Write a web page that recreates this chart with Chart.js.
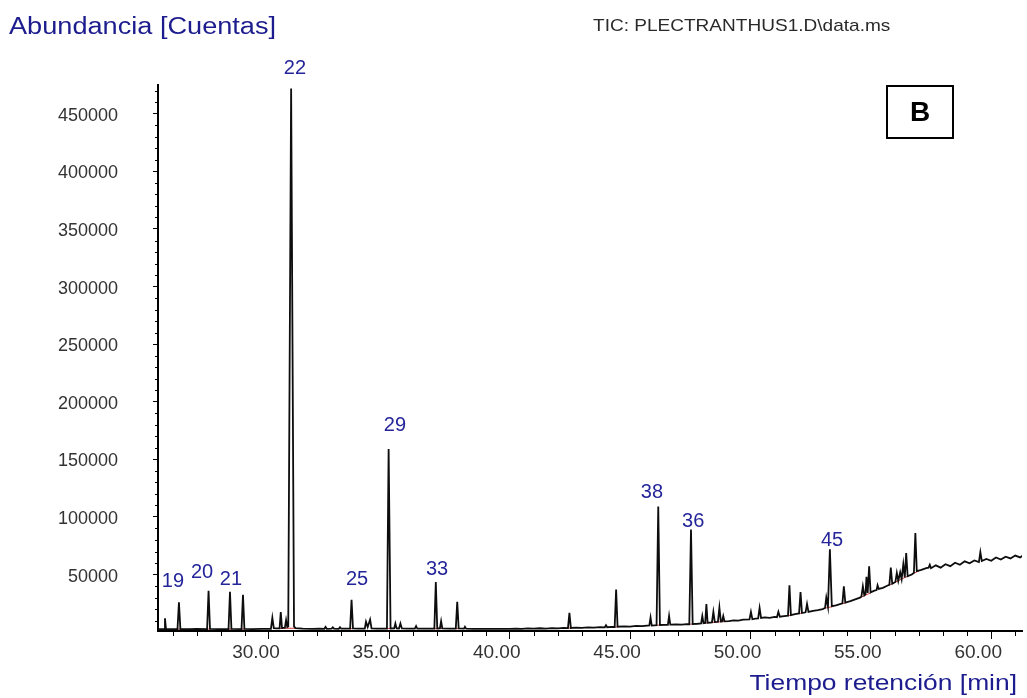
<!DOCTYPE html>
<html><head><meta charset="utf-8">
<script src="https://cdn.jsdelivr.net/npm/chart.js@4/dist/chart.umd.min.js"></script>
<style>html,body{margin:0;padding:0;background:#fff;}canvas{display:block;}</style>
</head><body>
<canvas id="c" width="1027" height="698"></canvas>
<script>
// Retention time (min) and TIC abundance (counts)
const retentionTime = [
  25.40,25.60,25.64,25.68,25.72,26.00,26.20,26.26,26.32,26.70,27.00,27.43,27.49,27.55,27.90,
  28.32,28.38,28.44,28.86,28.92,28.98,29.30,29.70,30.08,30.14,30.20,30.30,30.44,30.49,30.54,
  30.66,30.71,30.76,30.80,30.92,31.04,31.10,31.40,31.80,32.10,32.30,32.35,32.40,32.60,32.65,
  32.70,32.90,32.95,33.00,33.20,33.37,33.43,33.49,33.70,33.98,34.03,34.10,34.20,34.26,34.50,
  34.90,34.97,35.05,35.20,35.25,35.30,35.40,35.46,35.52,35.80,36.06,36.11,36.16,36.50,36.87,
  36.93,36.99,37.10,37.15,37.20,37.50,37.76,37.82,37.88,38.10,38.14,38.19,38.50,39.00,39.50,
  40.00,40.25,40.50,40.75,41.00,41.25,41.50,41.75,42.00,42.25,42.42,42.48,42.54,42.75,43.00,
  43.25,43.50,43.75,43.95,44.00,44.05,44.25,44.36,44.42,44.48,44.75,45.00,45.25,45.50,45.80,
  45.85,45.90,46.10,46.17,46.24,46.45,46.57,46.62,46.67,46.90,47.15,47.35,47.46,47.53,47.60,
  47.80,47.95,48.00,48.05,48.12,48.17,48.22,48.40,48.46,48.52,48.65,48.71,48.77,48.82,48.87,
  48.92,49.10,49.30,49.50,49.70,49.96,50.02,50.08,50.20,50.32,50.38,50.44,50.60,50.80,51.00,
  51.10,51.16,51.22,51.40,51.56,51.62,51.68,51.85,52.02,52.08,52.14,52.29,52.35,52.41,52.60,
  52.80,53.00,53.10,53.15,53.22,53.30,53.38,53.55,53.82,53.88,53.94,54.15,54.35,54.55,54.61,
  54.67,54.73,54.78,54.82,54.87,54.93,54.99,55.15,55.24,55.28,55.33,55.50,55.70,55.77,55.83,
  55.89,56.02,56.08,56.14,56.22,56.28,56.35,56.41,56.47,56.53,56.70,56.79,56.85,56.91,57.10,
  57.30,57.40,57.45,57.50,57.70,57.90,58.10,58.30,58.50,58.70,58.90,59.10,59.30,59.49,59.55,
  59.61,59.80,60.00,60.20,60.40,60.60,60.80,61.00,61.20,61.30
];
const abundance = [
  2600,2700,2700,12000,2800,2600,2700,26000,2700,2600,2800,2700,36000,2800,2600,
  2700,35000,2800,2700,32500,2800,2600,2800,2900,12500,3500,3200,3300,17500,3600,
  3800,10500,4500,5000,472000,5000,3500,3000,2900,3000,2900,4500,2900,3100,4200,
  3000,2900,4300,3000,3100,3000,28000,3200,3000,3100,9000,4500,11000,3200,3000,
  3100,159000,3200,3300,7500,3300,3200,7500,3200,3000,3100,5200,3000,3100,3000,
  43500,3200,3300,9500,3200,3000,3100,26300,3200,3100,4600,3000,2900,2800,2900,
  2900,3100,2800,3200,3000,3400,3100,3500,3300,3700,3500,16700,3600,3900,3700,
  4100,3900,4400,4200,6000,4300,4600,4500,37000,4700,5000,4800,5400,5200,5800,
  12700,5700,6000,109000,6200,6400,6300,14100,6600,6800,6600,7000,6900,89000,7100,
  7300,7600,14000,7800,8000,24300,8200,8500,17600,8700,9000,21400,9200,9300,13900,
  9400,9600,10200,10000,10800,11000,17600,11200,11800,12000,21000,12300,12800,12400,13200,
  13000,17600,13400,14000,14300,40700,14800,15600,16300,34700,16600,17200,24500,17500,18500,
  19200,20000,21000,30000,22000,72000,22500,23200,25000,39800,25600,27000,28500,30000,31000,
  39800,32000,33000,48000,34000,57200,34500,36000,36500,40700,37500,38500,40500,41000,56000,
  42000,43500,51400,44500,52000,46000,59000,47500,68700,48500,50000,51500,86000,53000,54000,
  55500,56000,58500,55500,58000,56000,59000,57300,60300,58500,61500,59800,62300,60800,69500,
  61800,63500,62000,64800,63000,65500,64000,66500,64900,66300
];

// Red integration baselines (null breaks a segment)
const integrationTime = [
  26.18,26.34,26.34, 27.41,27.57,27.57, 28.30,28.46,28.46, 28.84,29.00,29.00,
  30.40,31.12,31.12, 33.35,33.51,33.51, 34.88,35.08,35.08, 36.85,37.22,37.22,
  37.74,37.90,37.90, 42.40,42.56,42.56, 44.34,44.50,44.50, 46.08,46.28,46.28,
  47.44,47.62,47.62, 48.10,48.95,48.95, 51.54,51.70,51.70, 52.00,52.16,52.16,
  53.08,53.45,53.45, 53.80,53.97,53.97, 54.58,55.02,55.02, 55.72,57.00,57.00
];
const integrationAbundance = [
  2700,2700,null, 2700,2700,null, 2700,2700,null, 2700,2700,null,
  3300,3400,null, 3000,3100,null, 3100,3200,null, 3000,3200,null,
  3100,3100,null, 3500,3600,null, 4500,4700,null, 6000,6200,null,
  6900,7100,null, 7900,9300,null, 14200,14700,null, 16200,16500,null,
  20800,22300,null, 24800,25400,null, 30200,34400,null, 40500,53200,null
];

const peakLabels = ['19','20','21','22','25','29','33','38','36','45'];
const peakLabelTime = [26.01,27.22,28.42,31.08,33.66,35.23,36.98,45.91,47.62,53.39];
const peakLabelAbundance = [39000,46800,40700,484400,40700,174200,49400,116100,91000,74500];

// Axis tick values
const xTickValues = [30, 35, 40, 45, 50, 55, 60];
const yTickValues = [50000, 100000, 150000, 200000, 250000, 300000, 350000, 400000, 450000];

const yAxisTitle = 'Abundancia [Cuentas]';
const xAxisTitle = 'Tiempo retención [min]';
const fileTitle = 'TIC: PLECTRANTHUS1.D\\data.ms';
const panelLetter = 'B';

const X_MIN = 25.39, X_MAX = 61.28, Y_MIN = 1000, Y_MAX = 475000;

const blue = '#1c1c8e';

function stretchedText(ctx, text, x, y, sx, align) {
  ctx.save();
  ctx.translate(x, y);
  ctx.scale(sx, 1);
  ctx.textAlign = align || 'left';
  ctx.fillText(text, 0, 0);
  ctx.restore();
}

const annotations = {
  id: 'annotations',
  afterDraw(chart) {
    const { ctx, scales: { x, y } } = chart;
    ctx.save();
    // minor ticks
    ctx.strokeStyle = '#000';
    ctx.lineWidth = 1;
    for (let t = Math.ceil(x.min); t <= x.max; t++) {
      if (t % 5 === 0) continue;
      const px = Math.round(x.getPixelForValue(t)) + 0.5;
      ctx.beginPath(); ctx.moveTo(px, y.bottom); ctx.lineTo(px, y.bottom + 5); ctx.stroke();
    }
    for (let v = 10000; v <= y.max; v += 10000) {
      if (v % 50000 === 0) continue;
      const py = Math.round(y.getPixelForValue(v)) + 0.5;
      ctx.beginPath(); ctx.moveTo(x.left - 3, py); ctx.lineTo(x.left, py); ctx.stroke();
    }
    // titles
    ctx.fillStyle = blue;
    ctx.textBaseline = 'alphabetic';
    ctx.font = '23px "Liberation Sans", Arial, sans-serif';
    stretchedText(ctx, yAxisTitle, 9, 34, 1.18, 'left');
    ctx.font = '22px "Liberation Sans", Arial, sans-serif';
    stretchedText(ctx, xAxisTitle, 1017, 690, 1.2, 'right');
    ctx.fillStyle = '#2a2a2a';
    ctx.font = '17px "Liberation Sans", Arial, sans-serif';
    stretchedText(ctx, fileTitle, 593, 31, 1.12, 'left');
    // peak numbers
    ctx.fillStyle = '#25259a';
    ctx.font = '20px "Liberation Sans", Arial, sans-serif';
    ctx.textAlign = 'center';
    peakLabels.forEach((lab, i) => {
      ctx.fillText(lab, x.getPixelForValue(peakLabelTime[i]), y.getPixelForValue(peakLabelAbundance[i]));
    });
    // panel letter box
    ctx.strokeStyle = '#000';
    ctx.lineWidth = 2;
    ctx.strokeRect(887, 86, 66, 52);
    ctx.fillStyle = '#000';
    ctx.font = 'bold 28px "Liberation Sans", Arial, sans-serif';
    ctx.textBaseline = 'middle';
    ctx.fillText(panelLetter, 920, 113);
    ctx.restore();
  }
};

const tracePoints = retentionTime.map((t, i) => ({ x: t, y: abundance[i] }));
const integrationPoints = integrationTime.map((t, i) => ({ x: t, y: integrationAbundance[i] }));

new Chart(document.getElementById('c'), {
  type: 'line',
  data: {
    datasets: [
      { data: integrationPoints, borderColor: '#d23a3a', borderWidth: 1, pointRadius: 0, tension: 0, spanGaps: false, order: 2 },
      { data: tracePoints, borderColor: '#0d0d0d', borderWidth: 1.8, pointRadius: 0, tension: 0, order: 1 }
    ]
  },
  options: {
    responsive: false,
    animation: false,
    events: [],
    layout: { padding: { top: 85, right: 5, left: 0, bottom: 0 } },
    plugins: { legend: { display: false }, tooltip: { enabled: false } },
    scales: {
      x: {
        type: 'linear', min: X_MIN, max: X_MAX,
        afterFit(s) { s.height = 67; },
        afterBuildTicks(s) { s.ticks = xTickValues.map(v => ({ value: v })); },
        border: { display: true, color: '#000', width: 2 },
        grid: { display: true, drawOnChartArea: false, tickLength: 8, tickColor: '#000', tickWidth: 1 },
        ticks: {
          autoSkip: false, maxRotation: 0,
          padding: 2, labelOffset: -13,
          color: '#333', font: { family: '"Liberation Sans", Arial, sans-serif', size: 19 },
          callback: v => Number(v).toFixed(2)
        }
      },
      y: {
        type: 'linear', min: Y_MIN, max: Y_MAX,
        afterFit(s) { s.width = 158; },
        afterBuildTicks(s) { s.ticks = yTickValues.map(v => ({ value: v })); },
        border: { display: true, color: '#000', width: 2 },
        grid: { display: true, drawOnChartArea: false, tickLength: 5, tickColor: '#000', tickWidth: 1 },
        ticks: {
          autoSkip: false, padding: 35, labelOffset: 2,
          color: '#333', font: { family: '"Liberation Sans", Arial, sans-serif', size: 18 },
          callback: v => String(v)
        }
      }
    }
  },
  plugins: [annotations]
});
</script>
</body></html>
